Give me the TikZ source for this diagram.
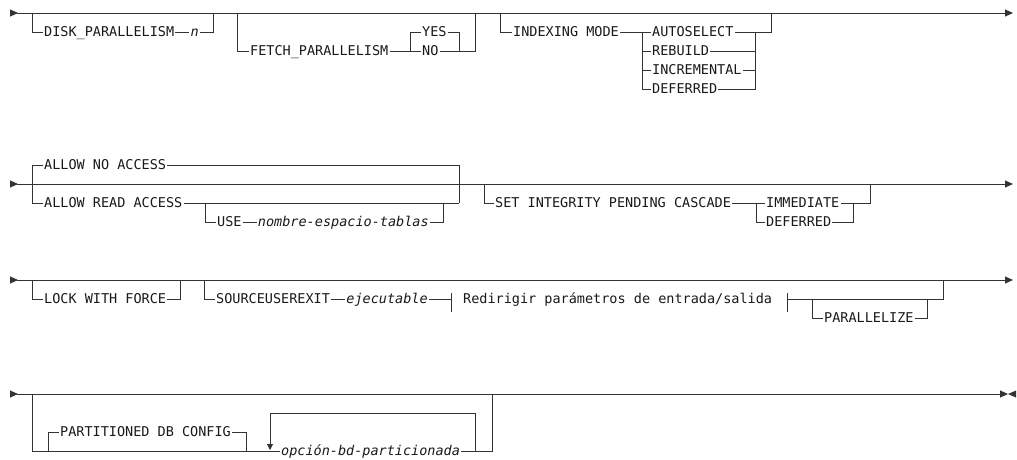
\documentclass[tikz,border=0pt]{standalone}
\usepackage{fontspec}
\setmonofont{DejaVu Sans Mono}
\usetikzlibrary{arrows.meta,positioning}

\begin{document}
\begin{tikzpicture}[x=1pt,y=-1pt,
    rail/.style={line width=0.9pt,draw=black!80},
    runline/.style={{Triangle[reversed,length=8pt,width=7pt]}-{Triangle[length=8pt,width=7pt]}},
    kw/.style={font=\ttfamily\fontsize{13.5}{16}\selectfont,inner xsep=1pt,inner ysep=0pt,
               text height=10pt,text depth=1.5pt,anchor=west,text=black!90},
    var/.style={kw,font=\ttfamily\itshape\fontsize{13.5}{16}\selectfont}]
  \useasboundingbox (0,0) rectangle (1017,459);

  % first line: disk / fetch / indexing mode
  \coordinate (s1) at (10,13);
  \coordinate (e1) at (1013,13);
  \coordinate (diskin) at (32,13);
  \coordinate (diskout) at (213,13);
  \coordinate (fetchin) at (237,13);
  \coordinate (fetchout) at (475,13);
  \coordinate (yesno) at (410,51);
  \coordinate (yesjoin) at (459,51);
  \coordinate (idxin) at (500,13);
  \coordinate (idxout) at (771,13);
  \coordinate (modesplit) at (642,32);
  \coordinate (modejoin) at (755,32);

  \node[kw] (disk) at (43,32) {DISK\_PARALLELISM};
  \node[var, right=14pt of disk] (n) {n};
  \node[kw] (fetch) at (249,51) {FETCH\_PARALLELISM};
  \node[kw] (yes) at (421,32) {YES};
  \node[kw] (no) at (421,51) {NO};
  \node[kw] (idx) at (512,32) {INDEXING MODE};
  \node[kw] (auto) at (651,32) {AUTOSELECT};
  \node[kw] (rebuild) at (651,51) {REBUILD};
  \node[kw] (incr) at (651,70) {INCREMENTAL};
  \node[kw] (defer) at (651,89) {DEFERRED};

  \draw[rail,runline] (s1) -- (e1);
  \draw[rail] (diskin) |- (disk.west);
  \draw[rail] (disk.east) -- (n.west);
  \draw[rail] (n.east) -| (diskout);
  \draw[rail] (fetchin) |- (fetch.west);
  \draw[rail] (fetch.east) -- (no.west);
  \draw[rail] (yesno) |- (yes.west);
  \draw[rail] (yes.east) -| (yesjoin);
  \draw[rail] (no.east) -| (fetchout);
  \draw[rail] (idxin) |- (idx.west);
  \draw[rail] (idx.east) -- (auto.west);
  \foreach \opt in {rebuild,incr,defer} {
    \draw[rail] (modesplit) |- (\opt.west);
    \draw[rail] (\opt.east) -| (modejoin);
  }
  \draw[rail] (auto.east) -| (idxout);

  % second line: access / set integrity
  \coordinate (s2) at (10,184);
  \coordinate (e2) at (1013,184);
  \coordinate (acctop) at (32,165);
  \coordinate (accbot) at (32,203);
  \coordinate (accjoin) at (459,203);
  \coordinate (usein) at (205,203);
  \coordinate (useout) at (443,203);
  \coordinate (setin) at (484,184);
  \coordinate (setout) at (870,184);
  \coordinate (cascsplit) at (756,203);
  \coordinate (cascjoin) at (853,203);

  \node[kw] (noacc) at (43,165) {ALLOW NO ACCESS};
  \node[kw] (readacc) at (43,203) {ALLOW READ ACCESS};
  \node[kw] (use) at (216,222) {USE};
  \node[var, right=14pt of use] (tsname) {nombre-espacio-tablas};
  \node[kw] (setint) at (494,203) {SET INTEGRITY PENDING CASCADE};
  \node[kw] (imm) at (765,203) {IMMEDIATE};
  \node[kw] (deferred) at (765,222) {DEFERRED};

  \draw[rail,runline] (s2) -- (e2);
  \draw[rail] (noacc.west) -- (acctop) -- (accbot) -- (readacc.west);
  \draw[rail] (noacc.east) -| (accjoin);
  \draw[rail] (readacc.east) -- (accjoin);
  \draw[rail] (usein) |- (use.west);
  \draw[rail] (use.east) -- (tsname.west);
  \draw[rail] (tsname.east) -| (useout);
  \draw[rail] (setin) |- (setint.west);
  \draw[rail] (setint.east) -- (imm.west);
  \draw[rail] (cascsplit) |- (deferred.west);
  \draw[rail] (deferred.east) -| (cascjoin);
  \draw[rail] (imm.east) -| (setout);

  % third line: lock / sourceuserexit
  \coordinate (s3) at (10,280);
  \coordinate (e3) at (1013,280);
  \coordinate (lockin) at (32,280);
  \coordinate (lockout) at (180,280);
  \coordinate (srcin) at (204,280);
  \coordinate (srcout) at (943,280);
  \coordinate (barl) at (451,299);
  \coordinate (barr) at (787,299);
  \coordinate (parin) at (812,299);
  \coordinate (parout) at (927,299);

  \node[kw] (lock) at (43,299) {LOCK WITH FORCE};
  \node[kw] (src) at (215,299) {SOURCEUSEREXIT};
  \node[var, right=14pt of src] (exe) {ejecutable};
  \node[kw] (redir) at (462,299) {Redirigir parámetros de entrada/salida};
  \node[kw] (par) at (823,318) {PARALLELIZE};

  \draw[rail,runline] (s3) -- (e3);
  \draw[rail] (lockin) |- (lock.west);
  \draw[rail] (lock.east) -| (lockout);
  \draw[rail] (srcin) |- (src.west);
  \draw[rail] (src.east) -- (exe.west);
  \draw[rail] (exe.east) -- (barl);
  \draw[rail] ([yshift=6pt]barl) -- ([yshift=-13pt]barl);
  \draw[rail] ([yshift=6pt]barr) -- ([yshift=-13pt]barr);
  \draw[rail] (barr) -| (srcout);
  \draw[rail] (parin) |- (par.west);
  \draw[rail] (par.east) -| (parout);

  % fourth line: partitioned db config
  \coordinate (s4) at (10,394);
  \coordinate (e4) at (1008,394);
  \coordinate (outin) at (32,394);
  \coordinate (outout) at (492,394);
  \coordinate (pdbin) at (48,451);
  \coordinate (pdbout) at (246,451);
  \coordinate (loopin) at (475,451);
  \coordinate (looptop) at (270,413);
  \coordinate (loopend) at (270,450);

  \node[kw] (pdb) at (59,432) {PARTITIONED DB CONFIG};
  \node[var] (pdbopt) at (280,451) {opción-bd-particionada};

  \draw[rail,runline] (s4) -- (e4);
  \fill[black!80] (e4) -- ++(8,3.5) -- ++(0,-7) -- cycle;
  \draw[rail] (outin) |- (pdbopt.west);
  \draw[rail] (pdbopt.east) -| (outout);
  \draw[rail] (pdbin) |- (pdb.west);
  \draw[rail] (pdb.east) -| (pdbout);
  \draw[rail,-{Triangle[length=6pt,width=6pt]}] (loopin) |- (looptop) -- (loopend);
\end{tikzpicture}
\end{document}
